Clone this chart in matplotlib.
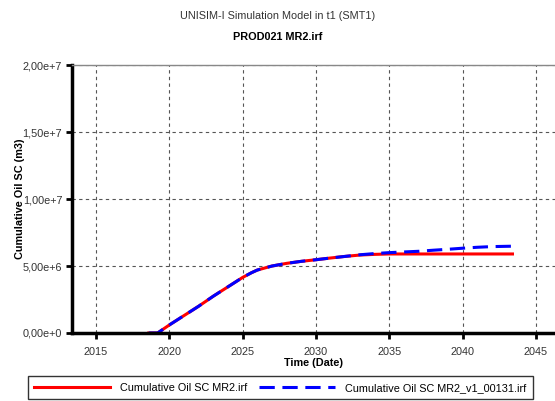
import matplotlib
matplotlib.use("Agg")
import matplotlib.pyplot as plt
from matplotlib.ticker import FuncFormatter

plt.rcParams['font.family'] = ['Liberation Sans', 'DejaVu Sans']

# cumulative oil, base case (MR2.irf)
years_base = [2018.6, 2019.2, 2020, 2021, 2022, 2023, 2024, 2025, 2025.6, 2026, 2027,
              2028, 2029, 2030, 2031, 2032, 2033, 2034, 2035, 2037, 2040, 2043.4]
oil_base = [0, 0, 0.6e6, 1.3e6, 2.0e6, 2.75e6, 3.45e6, 4.15e6, 4.5e6, 4.7e6, 5.0e6,
            5.2e6, 5.35e6, 5.47e6, 5.6e6, 5.72e6, 5.82e6, 5.87e6, 5.9e6, 5.9e6, 5.9e6, 5.9e6]

# cumulative oil, variant (MR2_v1_00131.irf)
years_var = [2018.6, 2019.2, 2020, 2021, 2022, 2023, 2024, 2025, 2025.6, 2026, 2027,
             2028, 2029, 2030, 2031, 2032, 2033, 2034, 2035, 2036, 2037, 2038, 2039,
             2040, 2041, 2042, 2043.4]
oil_var = [0, 0, 0.6e6, 1.3e6, 2.0e6, 2.75e6, 3.45e6, 4.15e6, 4.5e6, 4.7e6, 5.0e6,
           5.2e6, 5.35e6, 5.47e6, 5.6e6, 5.72e6, 5.84e6, 5.93e6, 6.0e6, 6.05e6, 6.1e6,
           6.18e6, 6.25e6, 6.33e6, 6.4e6, 6.45e6, 6.48e6]

xticks = [2015, 2020, 2025, 2030, 2035, 2040, 2045]
yticks = [0, 5e6, 1e7, 1.5e7, 2e7]


def sci_comma(v, pos):
    if v == 0:
        return "0,00e+0"
    s = "%.2e" % v
    mant, exp = s.split("e")
    return mant.replace(".", ",") + "e+" + str(int(exp))


fig = plt.figure(figsize=(5.55, 4.01), dpi=100)
ax = fig.add_axes([0.1297, 0.1696, 0.8703, 0.668])

l1, = ax.plot(years_base, oil_base, color='red', lw=2.2, label='Cumulative Oil SC MR2.irf')
l2, = ax.plot(years_var, oil_var, color='blue', lw=2.2, dashes=(5, 2.5),
              label='Cumulative Oil SC MR2_v1_00131.irf')

ax.set_xlim(2013.36, 2046.3)
ax.set_ylim(0, 2e7)
ax.set_xticks(xticks)
ax.set_yticks(yticks)
ax.yaxis.set_major_formatter(FuncFormatter(sci_comma))
ax.tick_params(labelsize=7.8, length=4, width=2, colors='black', labelcolor='#333333')
ax.tick_params(axis='x', pad=6)
ax.tick_params(axis='y', pad=3)

ax.grid(True, ls=(0, (3, 3)), color='#555555', lw=0.8)
ax.set_axisbelow(True)
for s in ['left', 'bottom']:
    ax.spines[s].set_linewidth(2.5)
ax.spines['top'].set_color('#888888')
ax.spines['top'].set_linewidth(1)
ax.spines['right'].set_visible(False)

ax.set_xlabel('Time (Date)', fontsize=7.8, fontweight='bold', labelpad=1)
ax.set_ylabel('Cumulative Oil SC (m3)', fontsize=7.8, fontweight='bold', labelpad=-2)
ax.yaxis.set_label_coords(-0.098, 0.5)

fig.text(0.5, 0.952, 'UNISIM-I Simulation Model in t1 (SMT1)', ha='center', fontsize=7.8, color='#333333')
fig.text(0.5, 0.9, 'PROD021 MR2.irf', ha='center', fontsize=7.8, fontweight='bold')

leg = fig.legend(handles=[l1, l2], loc='center', bbox_to_anchor=(0.505, 0.033), ncol=2,
                 fontsize=7.8, frameon=True, fancybox=False, edgecolor='black',
                 handlelength=7, handletextpad=0.9, columnspacing=1.1, borderpad=0.6)
leg.get_frame().set_linewidth(1)

fig.savefig('out.png', dpi=100)
